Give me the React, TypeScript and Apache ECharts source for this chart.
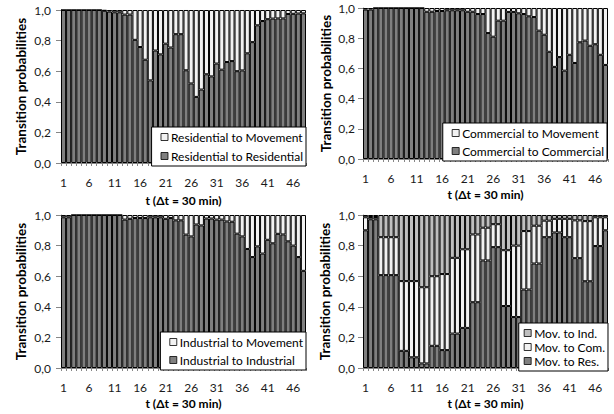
import React, { useEffect, useRef } from "react";
import * as echarts from "echarts";

const tLabels = Array.from({ length: 48 }, (_, i) => String(i + 1));
const yTicks = [0, 0.2, 0.4, 0.6, 0.8, 1.0];

// Panel 1: Residential
const resToRes = [1, 1, 1, 1, 1, 1, 1, 1, 0.995, 0.99, 0.985, 0.985, 0.97, 0.97, 0.805, 0.758, 0.675, 0.54, 0.735, 0.71, 0.78, 0.755, 0.842, 0.842, 0.606, 0.52, 0.432, 0.48, 0.58, 0.566, 0.65, 0.61, 0.66, 0.666, 0.6, 0.605, 0.717, 0.79, 0.9, 0.928, 0.94, 0.944, 0.945, 0.945, 0.974, 0.975, 0.977, 0.978];
const resToMov = [0, 0, 0, 0, 0, 0, 0, 0, 0.005, 0.01, 0.015, 0.015, 0.03, 0.03, 0.195, 0.242, 0.325, 0.46, 0.265, 0.29, 0.22, 0.245, 0.158, 0.158, 0.394, 0.48, 0.568, 0.52, 0.42, 0.434, 0.35, 0.39, 0.34, 0.334, 0.4, 0.395, 0.283, 0.21, 0.1, 0.072, 0.06, 0.056, 0.055, 0.055, 0.026, 0.025, 0.023, 0.022];

// Panel 2: Commercial
const comToCom = [0.99, 0.99, 1, 1, 1, 1, 1, 1, 1, 1, 1, 1, 0.975, 0.975, 0.98, 0.98, 0.985, 0.985, 0.985, 0.985, 0.975, 0.975, 0.96, 0.96, 0.834, 0.81, 0.916, 0.916, 0.974, 0.974, 0.965, 0.96, 0.945, 0.94, 0.85, 0.823, 0.71, 0.61, 0.675, 0.585, 0.69, 0.636, 0.773, 0.784, 0.75, 0.76, 0.69, 0.623];
const comToMov = [0.01, 0.01, 0, 0, 0, 0, 0, 0, 0, 0, 0, 0, 0.025, 0.025, 0.02, 0.02, 0.015, 0.015, 0.015, 0.015, 0.025, 0.025, 0.04, 0.04, 0.166, 0.19, 0.084, 0.084, 0.026, 0.026, 0.035, 0.04, 0.055, 0.06, 0.15, 0.177, 0.29, 0.39, 0.325, 0.415, 0.31, 0.364, 0.227, 0.216, 0.25, 0.24, 0.31, 0.377];

// Panel 3: Industrial
const indToInd = [0.985, 0.985, 1, 1, 1, 1, 1, 1, 1, 1, 1, 1, 0.97, 0.975, 0.98, 0.98, 0.98, 0.985, 0.985, 0.985, 0.975, 0.98, 0.965, 0.965, 0.872, 0.86, 0.938, 0.932, 0.977, 0.977, 0.97, 0.97, 0.958, 0.956, 0.878, 0.86, 0.778, 0.725, 0.795, 0.748, 0.838, 0.815, 0.877, 0.873, 0.828, 0.8, 0.725, 0.635];
const indToMov = [0.015, 0.015, 0, 0, 0, 0, 0, 0, 0, 0, 0, 0, 0.03, 0.025, 0.02, 0.02, 0.02, 0.015, 0.015, 0.015, 0.025, 0.02, 0.035, 0.035, 0.128, 0.14, 0.062, 0.068, 0.023, 0.023, 0.03, 0.03, 0.042, 0.044, 0.122, 0.14, 0.222, 0.275, 0.205, 0.252, 0.162, 0.185, 0.123, 0.127, 0.172, 0.2, 0.275, 0.365];

// Panel 4: Movement
const movToRes = [0.9, 0.972, 0.972, 0.607, 0.607, 0.607, 0.607, 0.112, 0.112, 0.07, 0.07, 0.03, 0.03, 0.145, 0.145, 0.117, 0.117, 0.225, 0.225, 0.262, 0.262, 0.43, 0.43, 0.703, 0.703, 0.79, 0.79, 0.405, 0.405, 0.333, 0.333, 0.513, 0.513, 0.683, 0.683, 0.855, 0.855, 0.886, 0.886, 0.855, 0.855, 0.718, 0.718, 0.567, 0.567, 0.797, 0.797, 0.9];
const movToCom = [0.085, 0.015, 0.015, 0.248, 0.248, 0.248, 0.248, 0.456, 0.456, 0.498, 0.498, 0.498, 0.498, 0.455, 0.455, 0.497, 0.497, 0.495, 0.495, 0.514, 0.514, 0.443, 0.443, 0.214, 0.214, 0.15, 0.15, 0.365, 0.365, 0.467, 0.467, 0.382, 0.382, 0.247, 0.247, 0.108, 0.108, 0.089, 0.089, 0.12, 0.12, 0.247, 0.247, 0.393, 0.393, 0.188, 0.188, 0.085];
const movToInd = [0.015, 0.013, 0.013, 0.145, 0.145, 0.145, 0.145, 0.432, 0.432, 0.432, 0.432, 0.472, 0.472, 0.4, 0.4, 0.386, 0.386, 0.28, 0.28, 0.224, 0.224, 0.127, 0.127, 0.083, 0.083, 0.06, 0.06, 0.23, 0.23, 0.2, 0.2, 0.105, 0.105, 0.07, 0.07, 0.037, 0.037, 0.025, 0.025, 0.025, 0.025, 0.035, 0.035, 0.04, 0.04, 0.015, 0.015, 0.015];

const DARK = "#7f7f7f";
const WHITE = "#f2f2f2";
const LIGHT = "#bfbfbf";
const FONT = "Lato, 'Open Sans', sans-serif";
const AXIS = "#868686";

export default function App() {
  const ref = useRef<HTMLDivElement>(null);
  useEffect(() => {
    document.body.style.margin = "0";
    const chart = echarts.init(ref.current!, undefined, { renderer: "svg" });

    const grids = [
      { left: 61, top: 10, width: 245, height: 153 },
      { left: 363, top: 8, width: 245, height: 151 },
      { left: 61, top: 215, width: 245, height: 153 },
      { left: 363, top: 215, width: 245, height: 153 },
    ];
    const yNameGap = [33, 30, 33, 31];
    const yLabelMargin = [10, 8, 10, 8];
    const xNameGap = [31, 29, 29, 29];

    const xAxis = grids.map((_, i) => ({
      type: "category",
      gridIndex: i,
      data: tLabels,
      boundaryGap: true,
      axisLine: { lineStyle: { color: AXIS, width: 1 } },
      axisTick: { show: true, interval: 0, length: 3, lineStyle: { color: AXIS } },
      axisLabel: { interval: 4, margin: 13, color: "#1a1a1a", fontSize: 12, fontFamily: FONT },
      name: "t (\u0394t = 30 min)",
      nameLocation: "middle",
      nameGap: xNameGap[i],
      nameTextStyle: { fontWeight: "bold", fontSize: 12, color: "#000", fontFamily: FONT },
    }));
    const yAxis = grids.map((_, i) => ({
      type: "value",
      gridIndex: i,
      min: yTicks[0],
      max: yTicks[yTicks.length - 1],
      interval: 0.2,
      splitLine: { show: false },
      axisLine: { show: true, lineStyle: { color: AXIS, width: 1 } },
      axisTick: { show: true, length: 5, lineStyle: { color: AXIS } },
      axisLabel: {
        margin: yLabelMargin[i],
        color: "#1a1a1a",
        fontSize: 12,
        fontFamily: FONT,
        formatter: (v: number) => v.toFixed(1).replace(".", ","),
      },
      name: "Transition probabilities",
      nameLocation: "middle",
      nameGap: yNameGap[i],
      nameTextStyle: { fontWeight: "bold", fontSize: 13.5, color: "#000", fontFamily: FONT },
    }));

    const bar = (name: string, data: number[], color: string, p: number) => ({
      type: "bar",
      name,
      data,
      stack: "s" + p,
      xAxisIndex: p,
      yAxisIndex: p,
      barCategoryGap: "0%",
      itemStyle: { color, borderColor: "#000", borderWidth: 1 },
      emphasis: { disabled: true },
    });

    const series = [
      bar("Residential to Residential", resToRes, DARK, 0),
      bar("Residential to Movement", resToMov, WHITE, 0),
      bar("Commercial to Commercial", comToCom, DARK, 1),
      bar("Commercial to Movement", comToMov, WHITE, 1),
      bar("Industrial to Industrial", indToInd, DARK, 2),
      bar("Industrial to Movement", indToMov, WHITE, 2),
      bar("Mov. to Res.", movToRes, DARK, 3),
      bar("Mov. to Com.", movToCom, WHITE, 3),
      bar("Mov. to Ind.", movToInd, LIGHT, 3),
    ];

    const legendBase = {
      orient: "vertical",
      backgroundColor: "#fff",
      borderColor: "#000",
      borderWidth: 1,
      borderRadius: 0,
      icon: "rect",
      itemWidth: 7,
      itemHeight: 7,
      selectedMode: false,
      textStyle: { fontSize: 12, color: "#000", fontFamily: FONT, padding: [0, 0, 0, -2] },
      itemStyle: { borderColor: "#000", borderWidth: 0.8 },
    };
    const legend = [
      { ...legendBase, right: 308, top: 127, itemGap: 7, padding: [4, 3, 4, 9], data: ["Residential to Movement", "Residential to Residential"] },
      { ...legendBase, right: 7, top: 123, itemGap: 6, padding: [4, 3, 4, 9], data: ["Commercial to Movement", "Commercial to Commercial"] },
      { ...legendBase, right: 308, top: 332, itemGap: 6, padding: [4, 3, 4, 9], data: ["Industrial to Movement", "Industrial to Industrial"] },
      { ...legendBase, right: 6, top: 323, itemGap: 2, padding: [4, 3, 4, 5], data: ["Mov. to Ind.", "Mov. to Com.", "Mov. to Res."] },
    ];

    chart.setOption({
      animation: false,
      textStyle: { fontFamily: FONT },
      grid: grids.map((g) => ({ ...g, containLabel: false })),
      xAxis,
      yAxis,
      legend,
      series,
    });
    return () => chart.dispose();
  }, []);
  return <div ref={ref} style={{ position: "absolute", left: 0, top: 0, width: 614, height: 414 }} />;
}
